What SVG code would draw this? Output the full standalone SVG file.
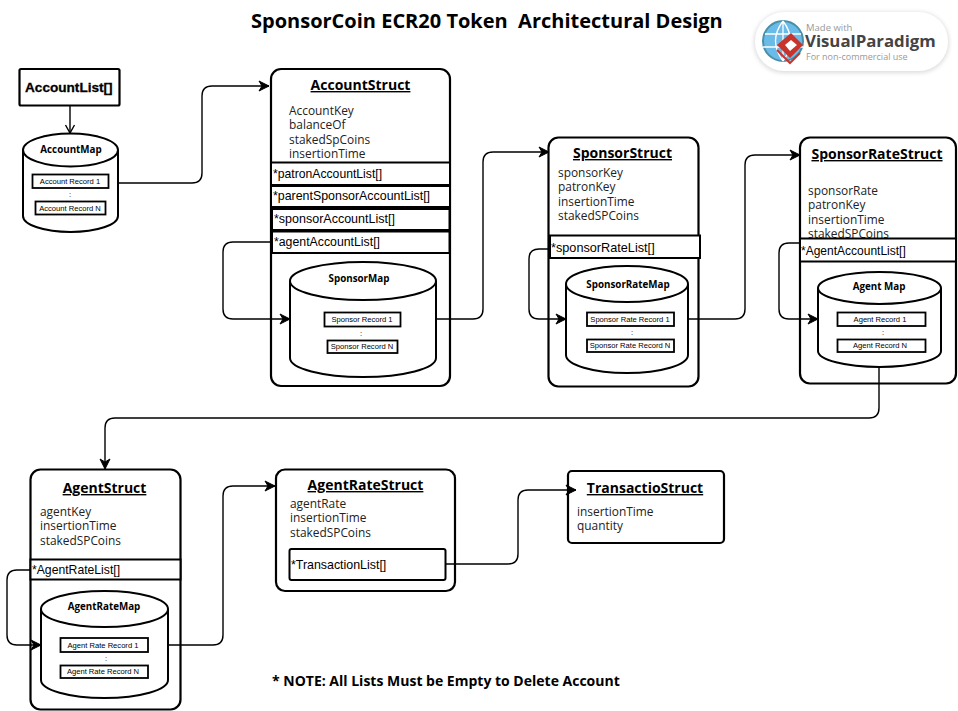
<svg xmlns="http://www.w3.org/2000/svg" width="958" height="711" viewBox="0 0 958 711">
<style>
text{font-family:"Open Sans","Noto Sans",sans-serif;fill:#000}
.box{fill:#fff;stroke:#000;stroke-width:2.2}
.row{fill:#fff;stroke:#000;stroke-width:2}
.rec{fill:#fff;stroke:#000;stroke-width:1.8}
.cyl{fill:#fff;stroke:#000;stroke-width:2}
.conn{fill:none;stroke:#000;stroke-width:1.4}
.head{font-size:14px;font-weight:700;text-decoration:underline;text-anchor:middle}
.attr{font-size:11.9px;fill:#222}
.list{font-family:"Liberation Sans",Arial,sans-serif;font-size:12.2px}
.recT{font-family:"Liberation Sans",Arial,sans-serif;font-size:7.6px;text-anchor:middle}
.map{font-size:9.8px;font-weight:700;text-anchor:middle}
</style>
<defs>
<marker id="arr" markerUnits="userSpaceOnUse" markerWidth="14" markerHeight="14" refX="11" refY="6" orient="auto"><path d="M1,1 L11,6 L1,11 L4,6Z" fill="#000" stroke="#000" stroke-width="1"/></marker>
<marker id="open" markerUnits="userSpaceOnUse" markerWidth="14" markerHeight="14" refX="10" refY="6" orient="auto"><path d="M2,1.500 L10,6 L2,10.500" fill="none" stroke="#000" stroke-width="1.400"/></marker>
<filter id="soft" x="-10%" y="-20%" width="120%" height="140%"><feGaussianBlur stdDeviation="2"/></filter>
</defs>

<text id="title" x="251" y="27.500" font-size="20" font-weight="700" style="white-space:pre">SponsorCoin ECR20 Token  Architectural Design</text>

<g id="logo">
<rect x="754" y="12" width="195" height="61" rx="30" fill="#ddd" filter="url(#soft)"/>
<rect x="755" y="12" width="193" height="59" rx="29" fill="#fff"/>
<circle cx="783" cy="41" r="20" fill="#6bbbe8" stroke="#4a8fa8" stroke-width="2"/>
<path d="M765,34H801M763,47H803M783,21V61M783,21Q768,41 783,61M783,21Q798,41 783,61" fill="none" stroke="#fff" stroke-width="1.300"/>
<path d="M791,33 L803,45 L790,58 L777,45Z" fill="#c8342c"/>
<path d="M791,40 L797,45 L790,51 L785,45Z" fill="#fff"/>
<path d="M777,50 L790,63 L800,53" fill="none" stroke="#c8342c" stroke-width="2"/>
<text x="806" y="31" font-size="9.500" style="fill:#999">Made with</text>
<text x="805" y="47" font-size="16.800" font-weight="700" style="fill:#444">VisualParadigm</text>
<text x="806" y="60" font-size="9" style="fill:#999">For non-commercial use</text>
</g>

<g id="AccountList">
<rect class="box" x="19.500" y="69" width="100" height="36.500" rx="1.500"/>
<text x="25" y="92" font-size="13.600" font-weight="700" stroke="#000" stroke-width="0.300" style="font-family:'Liberation Sans',sans-serif">AccountList[]</text>
</g>

<g id="AccountMap">
<path class="cyl" d="M23,150V216A47.500,16 0 0 0 118,216V150"/>
<ellipse class="cyl" cx="70.500" cy="150" rx="47.500" ry="16.500"/>
<text class="map" x="71" y="153">AccountMap</text>
<rect class="rec" x="32.500" y="174.500" width="76" height="13.500"/>
<text class="recT" x="70" y="184">Account Record 1</text>
<text class="recT" x="70" y="197">:</text>
<rect class="rec" x="35.500" y="201.500" width="70" height="13"/>
<text class="recT" x="70" y="210.500">Account Record N</text>
</g>

<g id="AccountStruct">
<rect class="box" x="271" y="69" width="179" height="317" rx="10"/>
<text class="head" x="360.500" y="90">AccountStruct</text>
<text class="attr" x="289" y="115">AccountKey</text>
<text class="attr" x="289" y="129">balanceOf</text>
<text class="attr" x="289" y="144">stakedSpCoins</text>
<text class="attr" x="289" y="158">insertionTime</text>
<rect class="row" x="271" y="162.500" width="179" height="22.500"/>
<text class="list" x="273" y="178">*patronAccountList[]</text>
<rect class="row" x="271" y="186" width="179" height="21"/>
<text class="list" x="273" y="200" style="font-size:12.4px">*parentSponsorAccountList[]</text>
<rect class="row" x="272" y="209" width="177.500" height="21"/>
<text class="list" x="274" y="223" style="font-size:12.5px">*sponsorAccountList[]</text>
<rect class="row" x="272" y="231.500" width="177.500" height="21.500"/>
<text class="list" x="274" y="246" style="font-size:12.3px">*agentAccountList[]</text>
</g>

<g id="SponsorMap">
<path class="cyl" d="M290,281V358A73,19 0 0 0 436,358V281"/>
<ellipse class="cyl" cx="363" cy="281" rx="73" ry="19"/>
<text class="map" x="359" y="282">SponsorMap</text>
<rect class="rec" x="324.500" y="312.500" width="76" height="14"/>
<text class="recT" x="362" y="322">Sponsor Record 1</text>
<text class="recT" x="361" y="336">:</text>
<rect class="rec" x="327.500" y="340.500" width="70" height="12.500"/>
<text class="recT" x="362" y="349">Sponsor Record N</text>
</g>

<g id="SponsorStruct">
<rect class="box" x="548.500" y="137.500" width="150" height="249" rx="10"/>
<text class="head" x="622.500" y="158">SponsorStruct</text>
<text class="attr" x="558" y="177">sponsorKey</text>
<text class="attr" x="558" y="191">patronKey</text>
<text class="attr" x="558" y="206">insertionTime</text>
<text class="attr" x="558" y="220">stakedSPCoins</text>
<rect class="row" x="550" y="235.500" width="150" height="22.500"/>
<text class="list" x="551" y="252" style="font-size:12.7px">*sponsorRateList[]</text>
</g>

<g id="SponsorRateMap">
<path class="cyl" d="M566,284V355A61,18 0 0 0 688,355V284"/>
<ellipse class="cyl" cx="627" cy="284" rx="61" ry="18"/>
<text class="map" x="628" y="288">SponsorRateMap</text>
<rect class="rec" x="587" y="312.500" width="87" height="13.500"/>
<text class="recT" x="630" y="322">Sponsor Rate Record 1</text>
<text class="recT" x="632" y="335">:</text>
<rect class="rec" x="587" y="339.500" width="87" height="12.500"/>
<text class="recT" x="630" y="348">Sponsor Rate Record N</text>
</g>

<g id="SponsorRateStruct">
<rect class="box" x="800" y="137.500" width="156" height="246" rx="10"/>
<text class="head" x="877" y="159">SponsorRateStruct</text>
<text class="attr" x="808" y="195">sponsorRate</text>
<text class="attr" x="808" y="209">patronKey</text>
<text class="attr" x="808" y="224">insertionTime</text>
<text class="attr" x="808" y="238">stakedSPCoins</text>
<rect class="row" x="800" y="238.500" width="156" height="23"/>
<text class="list" x="801" y="255" style="font-size:12px">*AgentAccountList[]</text>
</g>

<g id="AgentMap">
<path class="cyl" d="M818,288V351A61.500,16 0 0 0 941,351V288"/>
<ellipse class="cyl" cx="879.500" cy="288" rx="61.500" ry="16"/>
<text class="map" x="879" y="290">Agent Map</text>
<rect class="rec" x="837.500" y="312.500" width="88" height="13.500"/>
<text class="recT" x="880" y="322">Agent Record 1</text>
<text class="recT" x="883" y="335">:</text>
<rect class="rec" x="837.500" y="339.500" width="88" height="12.500"/>
<text class="recT" x="880" y="348">Agent Record N</text>
</g>

<g id="AgentStruct">
<rect class="box" x="30.500" y="469.500" width="150" height="240" rx="10"/>
<text class="head" x="104.500" y="493">AgentStruct</text>
<text class="attr" x="40" y="516">agentKey</text>
<text class="attr" x="40" y="530">insertionTime</text>
<text class="attr" x="40" y="545">stakedSPCoins</text>
<rect class="row" x="30.500" y="559.500" width="150" height="20"/>
<text class="list" x="32" y="574">*AgentRateList[]</text>
</g>

<g id="AgentRateMap">
<path class="cyl" d="M41,609V680A63.500,18 0 0 0 168,680V609"/>
<ellipse class="cyl" cx="104.500" cy="609" rx="63.500" ry="18"/>
<text class="map" x="104" y="610">AgentRateMap</text>
<rect class="rec" x="60.500" y="638" width="87.500" height="14"/>
<text class="recT" x="103" y="647.500">Agent Rate Record 1</text>
<text class="recT" x="106" y="661">:</text>
<rect class="rec" x="60.500" y="665.500" width="87.500" height="12.500"/>
<text class="recT" x="103" y="674">Agent Rate Record N</text>
</g>

<g id="AgentRateStruct">
<rect class="box" x="276" y="469.500" width="179" height="121.500" rx="9"/>
<text class="head" x="365.500" y="490">AgentRateStruct</text>
<text class="attr" x="290" y="508">agentRate</text>
<text class="attr" x="290" y="522">insertionTime</text>
<text class="attr" x="290" y="537">stakedSPCoins</text>
<rect class="row" x="289.500" y="549" width="156" height="31" rx="2"/>
<text class="list" x="291" y="569" style="font-size:12.4px">*TransactionList[]</text>
</g>

<g id="TransactioStruct">
<rect class="box" x="568" y="471" width="156" height="72" rx="4"/>
<text class="head" x="645" y="493">TransactioStruct</text>
<text class="attr" x="577" y="516">insertionTime</text>
<text class="attr" x="577" y="530">quantity</text>
</g>

<g id="connectors">
<path class="conn" d="M70,105V133" marker-end="url(#open)"/>
<path class="conn" d="M118,183H192Q202,183 202,173V96Q202,86 212,86H269" marker-end="url(#arr)"/>
<path class="conn" d="M271,242H233Q223,242 223,252V309Q223,319 233,319H290" marker-end="url(#arr)"/>
<path class="conn" d="M436,319H473Q483,319 483,309V162Q483,152 493,152H549" marker-end="url(#arr)"/>
<path class="conn" d="M550,249H539Q529,249 529,259V309Q529,319 539,319H566" marker-end="url(#arr)"/>
<path class="conn" d="M688,319H735Q745,319 745,309V165Q745,155 755,155H800" marker-end="url(#arr)"/>
<path class="conn" d="M800,243H789Q779,243 779,253V309Q779,319 789,319H818" marker-end="url(#arr)"/>
<path class="conn" d="M879,367V408Q879,418 869,418H115Q105,418 105,428V469" marker-end="url(#arr)"/>
<path class="conn" d="M30,570H17Q7,570 7,580V635Q7,645 17,645H41" marker-end="url(#arr)"/>
<path class="conn" d="M168,645H213Q223,645 223,635V496Q223,486 233,486H275" marker-end="url(#arr)"/>
<path class="conn" d="M445,564H508Q518,564 518,554V500Q518,490 528,490H576" marker-end="url(#arr)"/>
</g>

<text id="note" x="272" y="686" font-size="14" font-weight="700">* NOTE: All Lists Must be Empty to Delete Account</text>
</svg>
